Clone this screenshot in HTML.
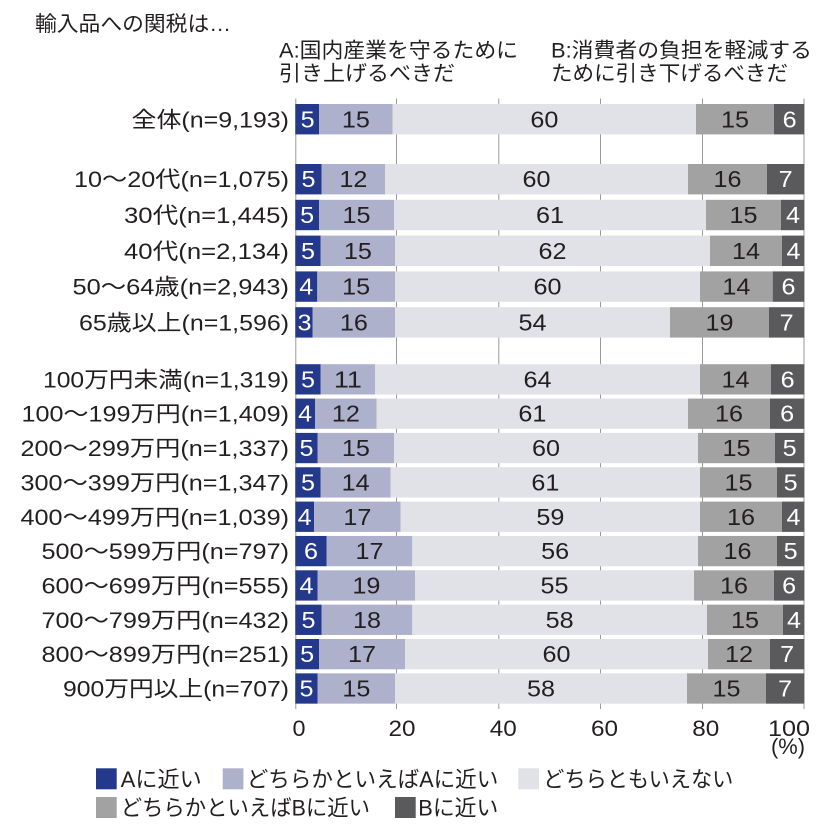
<!DOCTYPE html>
<html><head><meta charset="utf-8"><style>
html,body{margin:0;padding:0;background:#fff;}
svg{display:block;}
text{font-family:"Liberation Sans","Noto Sans CJK JP",sans-serif;fill:#231f20;}
.v{font-size:23px;text-anchor:middle;}
.w{fill:#fff;}
.c{font-size:22px;text-anchor:end;}
.t{font-size:22px;text-anchor:middle;}
.h{font-size:21px;}
.l{font-size:22px;}
</style></head><body>
<svg width="839" height="827" viewBox="0 0 839 827" xmlns="http://www.w3.org/2000/svg">
<text class="h" x="35" y="31" textLength="196" lengthAdjust="spacingAndGlyphs">輸入品への関税は…</text>
<text class="h" x="279" y="57.5" textLength="239" lengthAdjust="spacingAndGlyphs">A:国内産業を守るために</text>
<text class="h" x="279" y="80.5" textLength="176" lengthAdjust="spacingAndGlyphs">引き上げるべきだ</text>
<text class="h" x="551" y="57.5" textLength="261" lengthAdjust="spacingAndGlyphs">B:消費者の負担を軽減する</text>
<text class="h" x="551" y="80.5" textLength="237" lengthAdjust="spacingAndGlyphs">ために引き下げるべきだ</text>

<g stroke="#9a9a9a" stroke-width="1">
<line x1="295.8" y1="98.5" x2="295.8" y2="709"/>
<line x1="396.5" y1="98.5" x2="396.5" y2="709"/>
<line x1="498.8" y1="98.5" x2="498.8" y2="709"/>
<line x1="600.5" y1="98.5" x2="600.5" y2="709"/>
<line x1="702.5" y1="98.5" x2="702.5" y2="709"/>
<line x1="804" y1="98.5" x2="804" y2="709"/>
</g>

<g id="bars">
<!-- 全体 -->
<rect x="295.3" y="104" width="23.7" height="30.4" fill="#24388c"/><rect x="319" y="104" width="73.7" height="30.4" fill="#aeb1cc"/><rect x="392.7" y="104" width="303.3" height="30.4" fill="#e1e2e7"/><rect x="696" y="104" width="78" height="30.4" fill="#a2a2a2"/><rect x="774" y="104" width="30.3" height="30.4" fill="#5a595b"/>
<!-- 10-20 -->
<rect x="295.3" y="164" width="26.4" height="30.4" fill="#24388c"/><rect x="321.7" y="164" width="63.3" height="30.4" fill="#aeb1cc"/><rect x="385" y="164" width="303" height="30.4" fill="#e1e2e7"/><rect x="688" y="164" width="79" height="30.4" fill="#a2a2a2"/><rect x="767" y="164" width="37.3" height="30.4" fill="#5a595b"/>
<!-- 30 -->
<rect x="295.3" y="199.8" width="23.7" height="30.4" fill="#24388c"/><rect x="319" y="199.8" width="75" height="30.4" fill="#aeb1cc"/><rect x="394" y="199.8" width="312" height="30.4" fill="#e1e2e7"/><rect x="706" y="199.8" width="75" height="30.4" fill="#a2a2a2"/><rect x="781" y="199.8" width="23.3" height="30.4" fill="#5a595b"/>
<!-- 40 -->
<rect x="295.3" y="235.6" width="25.4" height="30.4" fill="#24388c"/><rect x="320.7" y="235.6" width="74.3" height="30.4" fill="#aeb1cc"/><rect x="395" y="235.6" width="315" height="30.4" fill="#e1e2e7"/><rect x="710" y="235.6" width="72" height="30.4" fill="#a2a2a2"/><rect x="782" y="235.6" width="22.3" height="30.4" fill="#5a595b"/>
<!-- 50-64 -->
<rect x="295.3" y="271.4" width="22" height="30.4" fill="#24388c"/><rect x="317.3" y="271.4" width="77.7" height="30.4" fill="#aeb1cc"/><rect x="395" y="271.4" width="305" height="30.4" fill="#e1e2e7"/><rect x="700" y="271.4" width="72.7" height="30.4" fill="#a2a2a2"/><rect x="772.7" y="271.4" width="31.6" height="30.4" fill="#5a595b"/>
<!-- 65 -->
<rect x="295.3" y="307.2" width="17.4" height="30.4" fill="#24388c"/><rect x="312.7" y="307.2" width="82.3" height="30.4" fill="#aeb1cc"/><rect x="395" y="307.2" width="275" height="30.4" fill="#e1e2e7"/><rect x="670" y="307.2" width="99" height="30.4" fill="#a2a2a2"/><rect x="769" y="307.2" width="35.3" height="30.4" fill="#5a595b"/>
<!-- 100未満 -->
<rect x="295.3" y="364.2" width="25.4" height="30.3" fill="#24388c"/><rect x="320.7" y="364.2" width="54.3" height="30.3" fill="#aeb1cc"/><rect x="375" y="364.2" width="325" height="30.3" fill="#e1e2e7"/><rect x="700" y="364.2" width="71" height="30.3" fill="#a2a2a2"/><rect x="771" y="364.2" width="33.3" height="30.3" fill="#5a595b"/>
<!-- 100-199 -->
<rect x="295.3" y="398.55" width="19.7" height="30.3" fill="#24388c"/><rect x="315" y="398.55" width="61.7" height="30.3" fill="#aeb1cc"/><rect x="376.7" y="398.55" width="311.3" height="30.3" fill="#e1e2e7"/><rect x="688" y="398.55" width="82" height="30.3" fill="#a2a2a2"/><rect x="770" y="398.55" width="34.3" height="30.3" fill="#5a595b"/>
<!-- 200-299 -->
<rect x="295.3" y="432.9" width="22.4" height="30.3" fill="#24388c"/><rect x="317.7" y="432.9" width="76.3" height="30.3" fill="#aeb1cc"/><rect x="394" y="432.9" width="304" height="30.3" fill="#e1e2e7"/><rect x="698" y="432.9" width="77" height="30.3" fill="#a2a2a2"/><rect x="775" y="432.9" width="29.3" height="30.3" fill="#5a595b"/>
<!-- 300-399 -->
<rect x="295.3" y="467.25" width="25.4" height="30.3" fill="#24388c"/><rect x="320.7" y="467.25" width="70" height="30.3" fill="#aeb1cc"/><rect x="390.7" y="467.25" width="309.3" height="30.3" fill="#e1e2e7"/><rect x="700" y="467.25" width="77" height="30.3" fill="#a2a2a2"/><rect x="777" y="467.25" width="27.3" height="30.3" fill="#5a595b"/>
<!-- 400-499 -->
<rect x="295.3" y="501.6" width="18.7" height="30.3" fill="#24388c"/><rect x="314" y="501.6" width="86.7" height="30.3" fill="#aeb1cc"/><rect x="400.7" y="501.6" width="299.3" height="30.3" fill="#e1e2e7"/><rect x="700" y="501.6" width="82" height="30.3" fill="#a2a2a2"/><rect x="782" y="501.6" width="22.3" height="30.3" fill="#5a595b"/>
<!-- 500-599 -->
<rect x="295.3" y="535.95" width="31.4" height="30.3" fill="#24388c"/><rect x="326.7" y="535.95" width="85.6" height="30.3" fill="#aeb1cc"/><rect x="412.3" y="535.95" width="285.7" height="30.3" fill="#e1e2e7"/><rect x="698" y="535.95" width="79" height="30.3" fill="#a2a2a2"/><rect x="777" y="535.95" width="27.3" height="30.3" fill="#5a595b"/>
<!-- 600-699 -->
<rect x="295.3" y="570.3" width="22.4" height="30.3" fill="#24388c"/><rect x="317.7" y="570.3" width="97.3" height="30.3" fill="#aeb1cc"/><rect x="415" y="570.3" width="279" height="30.3" fill="#e1e2e7"/><rect x="694" y="570.3" width="80" height="30.3" fill="#a2a2a2"/><rect x="774" y="570.3" width="30.3" height="30.3" fill="#5a595b"/>
<!-- 700-799 -->
<rect x="295.3" y="604.65" width="26.4" height="30.3" fill="#24388c"/><rect x="321.7" y="604.65" width="90.6" height="30.3" fill="#aeb1cc"/><rect x="412.3" y="604.65" width="294.7" height="30.3" fill="#e1e2e7"/><rect x="707" y="604.65" width="76" height="30.3" fill="#a2a2a2"/><rect x="783" y="604.65" width="21.3" height="30.3" fill="#5a595b"/>
<!-- 800-899 -->
<rect x="295.3" y="639" width="23.7" height="30.3" fill="#24388c"/><rect x="319" y="639" width="86" height="30.3" fill="#aeb1cc"/><rect x="405" y="639" width="303" height="30.3" fill="#e1e2e7"/><rect x="708" y="639" width="62" height="30.3" fill="#a2a2a2"/><rect x="770" y="639" width="34.3" height="30.3" fill="#5a595b"/>
<!-- 900 -->
<rect x="295.3" y="673.35" width="22.4" height="30.3" fill="#24388c"/><rect x="317.7" y="673.35" width="77.3" height="30.3" fill="#aeb1cc"/><rect x="395" y="673.35" width="292" height="30.3" fill="#e1e2e7"/><rect x="687" y="673.35" width="79" height="30.3" fill="#a2a2a2"/><rect x="766" y="673.35" width="38.3" height="30.3" fill="#5a595b"/>
</g>

<g>
<!-- values: baseline = center + 8 -->
<text class="v w" x="307.7" y="127.5" textLength="14" lengthAdjust="spacingAndGlyphs">5</text><text class="v" x="355.9" y="127.5" textLength="28" lengthAdjust="spacingAndGlyphs">15</text><text class="v" x="544.4" y="127.5" textLength="28" lengthAdjust="spacingAndGlyphs">60</text><text class="v" x="735" y="127.5" textLength="28" lengthAdjust="spacingAndGlyphs">15</text><text class="v w" x="789.6" y="127.5" textLength="14" lengthAdjust="spacingAndGlyphs">6</text>

<text class="v w" x="308.5" y="187.2" textLength="14" lengthAdjust="spacingAndGlyphs">5</text><text class="v" x="353.4" y="187.2" textLength="28" lengthAdjust="spacingAndGlyphs">12</text><text class="v" x="536.5" y="187.2" textLength="28" lengthAdjust="spacingAndGlyphs">60</text><text class="v" x="727.5" y="187.2" textLength="28" lengthAdjust="spacingAndGlyphs">16</text><text class="v w" x="785.7" y="187.2" textLength="14" lengthAdjust="spacingAndGlyphs">7</text>

<text class="v w" x="307.2" y="223" textLength="14" lengthAdjust="spacingAndGlyphs">5</text><text class="v" x="356.5" y="223" textLength="28" lengthAdjust="spacingAndGlyphs">15</text><text class="v" x="550" y="223" textLength="28" lengthAdjust="spacingAndGlyphs">61</text><text class="v" x="743.5" y="223" textLength="28" lengthAdjust="spacingAndGlyphs">15</text><text class="v w" x="793" y="223" textLength="14" lengthAdjust="spacingAndGlyphs">4</text>

<text class="v w" x="308" y="258.8" textLength="14" lengthAdjust="spacingAndGlyphs">5</text><text class="v" x="357.9" y="258.8" textLength="28" lengthAdjust="spacingAndGlyphs">15</text><text class="v" x="552.5" y="258.8" textLength="28" lengthAdjust="spacingAndGlyphs">62</text><text class="v" x="746" y="258.8" textLength="28" lengthAdjust="spacingAndGlyphs">14</text><text class="v w" x="793.5" y="258.8" textLength="14" lengthAdjust="spacingAndGlyphs">4</text>

<text class="v w" x="306.3" y="294.6" textLength="14" lengthAdjust="spacingAndGlyphs">4</text><text class="v" x="356.2" y="294.6" textLength="28" lengthAdjust="spacingAndGlyphs">15</text><text class="v" x="547.5" y="294.6" textLength="28" lengthAdjust="spacingAndGlyphs">60</text><text class="v" x="736.4" y="294.6" textLength="28" lengthAdjust="spacingAndGlyphs">14</text><text class="v w" x="788.5" y="294.6" textLength="14" lengthAdjust="spacingAndGlyphs">6</text>

<text class="v w" x="304.5" y="330.4" textLength="14" lengthAdjust="spacingAndGlyphs">3</text><text class="v" x="353.9" y="330.4" textLength="28" lengthAdjust="spacingAndGlyphs">16</text><text class="v" x="532.5" y="330.4" textLength="28" lengthAdjust="spacingAndGlyphs">54</text><text class="v" x="719.5" y="330.4" textLength="28" lengthAdjust="spacingAndGlyphs">19</text><text class="v w" x="786.7" y="330.4" textLength="14" lengthAdjust="spacingAndGlyphs">7</text>

<text class="v w" x="308" y="387.4" textLength="14" lengthAdjust="spacingAndGlyphs">5</text><text class="v" x="347.9" y="387.4" textLength="28" lengthAdjust="spacingAndGlyphs">11</text><text class="v" x="537.5" y="387.4" textLength="28" lengthAdjust="spacingAndGlyphs">64</text><text class="v" x="735.5" y="387.4" textLength="28" lengthAdjust="spacingAndGlyphs">14</text><text class="v w" x="787.7" y="387.4" textLength="14" lengthAdjust="spacingAndGlyphs">6</text>

<text class="v w" x="305.2" y="421.7" textLength="14" lengthAdjust="spacingAndGlyphs">4</text><text class="v" x="345.9" y="421.7" textLength="28" lengthAdjust="spacingAndGlyphs">12</text><text class="v" x="532.4" y="421.7" textLength="28" lengthAdjust="spacingAndGlyphs">61</text><text class="v" x="729" y="421.7" textLength="28" lengthAdjust="spacingAndGlyphs">16</text><text class="v w" x="787.2" y="421.7" textLength="14" lengthAdjust="spacingAndGlyphs">6</text>

<text class="v w" x="306.5" y="456.1" textLength="14" lengthAdjust="spacingAndGlyphs">5</text><text class="v" x="355.9" y="456.1" textLength="28" lengthAdjust="spacingAndGlyphs">15</text><text class="v" x="546" y="456.1" textLength="28" lengthAdjust="spacingAndGlyphs">60</text><text class="v" x="736.5" y="456.1" textLength="28" lengthAdjust="spacingAndGlyphs">15</text><text class="v w" x="789.7" y="456.1" textLength="14" lengthAdjust="spacingAndGlyphs">5</text>

<text class="v w" x="308" y="490.4" textLength="14" lengthAdjust="spacingAndGlyphs">5</text><text class="v" x="355.7" y="490.4" textLength="28" lengthAdjust="spacingAndGlyphs">14</text><text class="v" x="545.4" y="490.4" textLength="28" lengthAdjust="spacingAndGlyphs">61</text><text class="v" x="738.5" y="490.4" textLength="28" lengthAdjust="spacingAndGlyphs">15</text><text class="v w" x="790.7" y="490.4" textLength="14" lengthAdjust="spacingAndGlyphs">5</text>

<text class="v w" x="304.7" y="524.8" textLength="14" lengthAdjust="spacingAndGlyphs">4</text><text class="v" x="357.4" y="524.8" textLength="28" lengthAdjust="spacingAndGlyphs">17</text><text class="v" x="550.4" y="524.8" textLength="28" lengthAdjust="spacingAndGlyphs">59</text><text class="v" x="741" y="524.8" textLength="28" lengthAdjust="spacingAndGlyphs">16</text><text class="v w" x="793.5" y="524.8" textLength="14" lengthAdjust="spacingAndGlyphs">4</text>

<text class="v w" x="311" y="559.1" textLength="14" lengthAdjust="spacingAndGlyphs">6</text><text class="v" x="369.5" y="559.1" textLength="28" lengthAdjust="spacingAndGlyphs">17</text><text class="v" x="555.2" y="559.1" textLength="28" lengthAdjust="spacingAndGlyphs">56</text><text class="v" x="737.5" y="559.1" textLength="28" lengthAdjust="spacingAndGlyphs">16</text><text class="v w" x="790.7" y="559.1" textLength="14" lengthAdjust="spacingAndGlyphs">5</text>

<text class="v w" x="306.5" y="593.5" textLength="14" lengthAdjust="spacingAndGlyphs">4</text><text class="v" x="366.4" y="593.5" textLength="28" lengthAdjust="spacingAndGlyphs">19</text><text class="v" x="554.5" y="593.5" textLength="28" lengthAdjust="spacingAndGlyphs">55</text><text class="v" x="734" y="593.5" textLength="28" lengthAdjust="spacingAndGlyphs">16</text><text class="v w" x="789.2" y="593.5" textLength="14" lengthAdjust="spacingAndGlyphs">6</text>

<text class="v w" x="308.5" y="627.8" textLength="14" lengthAdjust="spacingAndGlyphs">5</text><text class="v" x="367" y="627.8" textLength="28" lengthAdjust="spacingAndGlyphs">18</text><text class="v" x="559.7" y="627.8" textLength="28" lengthAdjust="spacingAndGlyphs">58</text><text class="v" x="745" y="627.8" textLength="28" lengthAdjust="spacingAndGlyphs">15</text><text class="v w" x="794" y="627.8" textLength="14" lengthAdjust="spacingAndGlyphs">4</text>

<text class="v w" x="307.2" y="662.2" textLength="14" lengthAdjust="spacingAndGlyphs">5</text><text class="v" x="362" y="662.2" textLength="28" lengthAdjust="spacingAndGlyphs">17</text><text class="v" x="556.5" y="662.2" textLength="28" lengthAdjust="spacingAndGlyphs">60</text><text class="v" x="739" y="662.2" textLength="28" lengthAdjust="spacingAndGlyphs">12</text><text class="v w" x="787.2" y="662.2" textLength="14" lengthAdjust="spacingAndGlyphs">7</text>

<text class="v w" x="306.5" y="696.5" textLength="14" lengthAdjust="spacingAndGlyphs">5</text><text class="v" x="356.4" y="696.5" textLength="28" lengthAdjust="spacingAndGlyphs">15</text><text class="v" x="541" y="696.5" textLength="28" lengthAdjust="spacingAndGlyphs">58</text><text class="v" x="726.5" y="696.5" textLength="28" lengthAdjust="spacingAndGlyphs">15</text><text class="v w" x="785.2" y="696.5" textLength="14" lengthAdjust="spacingAndGlyphs">7</text>
</g>

<g>
<!-- category labels -->
<text class="c" x="289" y="127.5" textLength="157.5" lengthAdjust="spacingAndGlyphs">全体(n=9,193)</text>
<text class="c" x="289" y="187.2" textLength="215" lengthAdjust="spacingAndGlyphs">10～20代(n=1,075)</text>
<text class="c" x="289" y="223" textLength="165" lengthAdjust="spacingAndGlyphs">30代(n=1,445)</text>
<text class="c" x="289" y="258.8" textLength="165" lengthAdjust="spacingAndGlyphs">40代(n=2,134)</text>
<text class="c" x="289" y="294.6" textLength="216.5" lengthAdjust="spacingAndGlyphs">50～64歳(n=2,943)</text>
<text class="c" x="289" y="330.4" textLength="210" lengthAdjust="spacingAndGlyphs">65歳以上(n=1,596)</text>
<text class="c" x="289" y="387.4" textLength="246" lengthAdjust="spacingAndGlyphs">100万円未満(n=1,319)</text>
<text class="c" x="289" y="421.7" textLength="267.5" lengthAdjust="spacingAndGlyphs">100～199万円(n=1,409)</text>
<text class="c" x="289" y="456.1" textLength="268.5" lengthAdjust="spacingAndGlyphs">200～299万円(n=1,337)</text>
<text class="c" x="289" y="490.4" textLength="268.5" lengthAdjust="spacingAndGlyphs">300～399万円(n=1,347)</text>
<text class="c" x="289" y="524.8" textLength="268.5" lengthAdjust="spacingAndGlyphs">400～499万円(n=1,039)</text>
<text class="c" x="289" y="559.1" textLength="247.5" lengthAdjust="spacingAndGlyphs">500～599万円(n=797)</text>
<text class="c" x="289" y="593.5" textLength="247.5" lengthAdjust="spacingAndGlyphs">600～699万円(n=555)</text>
<text class="c" x="289" y="627.8" textLength="247.5" lengthAdjust="spacingAndGlyphs">700～799万円(n=432)</text>
<text class="c" x="289" y="662.2" textLength="247.5" lengthAdjust="spacingAndGlyphs">800～899万円(n=251)</text>
<text class="c" x="289" y="696.5" textLength="226" lengthAdjust="spacingAndGlyphs">900万円以上(n=707)</text>
</g>

<g>
<!-- ticks -->
<text class="t" x="299" y="736" textLength="13" lengthAdjust="spacingAndGlyphs">0</text>
<text class="t" x="402" y="736" textLength="27" lengthAdjust="spacingAndGlyphs">20</text>
<text class="t" x="503.3" y="736" textLength="27" lengthAdjust="spacingAndGlyphs">40</text>
<text class="t" x="604.5" y="736" textLength="27" lengthAdjust="spacingAndGlyphs">60</text>
<text class="t" x="705.8" y="736" textLength="27" lengthAdjust="spacingAndGlyphs">80</text>
<text class="t" x="789" y="736" textLength="42" lengthAdjust="spacingAndGlyphs">100</text>
<text class="t" x="788" y="754" textLength="34" lengthAdjust="spacingAndGlyphs">(%)</text>
</g>

<g>
<!-- legend -->
<rect x="96" y="768.3" width="20.7" height="21" fill="#24388c"/>
<text class="l" x="120.7" y="787" textLength="81" lengthAdjust="spacingAndGlyphs">Aに近い</text>
<rect x="222.7" y="768.3" width="20.7" height="21" fill="#aeb1cc"/>
<text class="l" x="246.7" y="787" textLength="251.6" lengthAdjust="spacingAndGlyphs">どちらかといえばAに近い</text>
<rect x="518.3" y="768.3" width="20.7" height="21" fill="#e1e2e7"/>
<text class="l" x="543.3" y="787" textLength="190" lengthAdjust="spacingAndGlyphs">どちらともいえない</text>
<rect x="96" y="797" width="20.7" height="21" fill="#a2a2a2"/>
<text class="l" x="120.7" y="815.7" textLength="249.3" lengthAdjust="spacingAndGlyphs">どちらかといえばBに近い</text>
<rect x="395" y="797" width="20.7" height="21" fill="#5a595b"/>
<text class="l" x="418.3" y="815.7" textLength="80" lengthAdjust="spacingAndGlyphs">Bに近い</text>
</g>
</svg>
</body></html>
